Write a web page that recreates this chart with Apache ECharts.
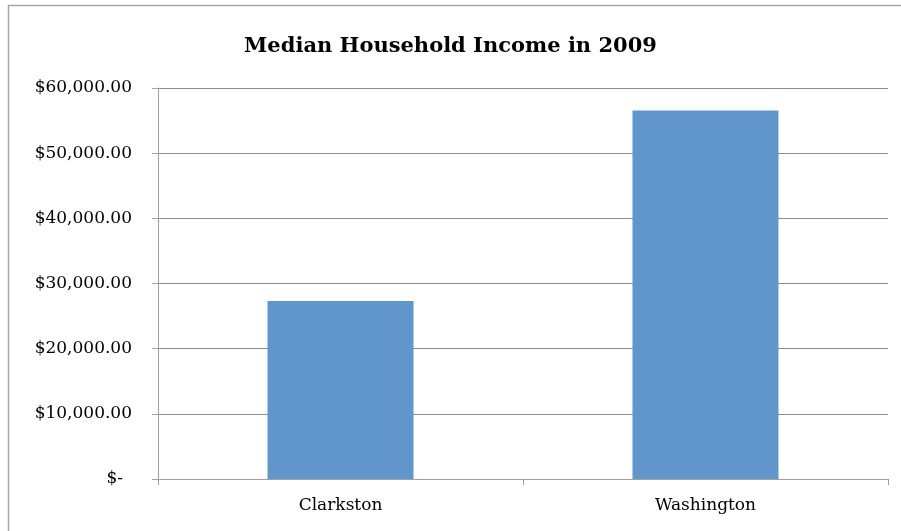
<!DOCTYPE html>
<html>
<head>
<meta charset="utf-8">
<script src="https://cdn.jsdelivr.net/npm/echarts@6/dist/echarts.min.js"></script>
<style>
  html, body { margin: 0; padding: 0; background: #ffffff; }
  #chart { width: 901px; height: 531px; }
</style>
</head>
<body>
<div id="chart"></div>
<script>
// Median household income, 2009
const categories = ['Clarkston', 'Washington'];
const incomes = [27315, 56548];
const yTicks = [0, 10000, 20000, 30000, 40000, 50000, 60000];
const titleText = 'Median Household Income in 2009';

const serif = '"DejaVu Serif", "Liberation Serif", serif';

function money(v) {
  if (v === 0) return '{z|$-}';
  return '$' + v.toLocaleString('en-US', { minimumFractionDigits: 2, maximumFractionDigits: 2 });
}

const chart = echarts.init(document.getElementById('chart'), null, { renderer: 'canvas' });
chart.setOption({
  animation: false,
  backgroundColor: '#ffffff',
  title: {
    text: titleText,
    left: 'center',
    top: 31,
    textStyle: { fontFamily: serif, fontWeight: 'bold', fontSize: 21, color: '#000000' }
  },
  graphic: [{
    type: 'rect',
    shape: { x: 8.5, y: 5.5, width: 1000, height: 1000 },
    style: { fill: 'none', stroke: '#a6a6a6', lineWidth: 1.5 },
    silent: true
  }],
  grid: { left: 158, right: 13, top: 88, bottom: 52 },
  xAxis: {
    type: 'category',
    data: categories,
    axisLine: { lineStyle: { color: '#a0a0a0', width: 1 } },
    axisTick: { show: true, length: 6, alignWithLabel: false, lineStyle: { color: '#a0a0a0' } },
    axisLabel: { fontFamily: serif, fontSize: 17, color: '#000000', margin: 18 }
  },
  yAxis: {
    type: 'value',
    min: yTicks[0],
    max: yTicks[yTicks.length - 1],
    interval: yTicks[1] - yTicks[0],
    axisLine: { show: true, lineStyle: { color: '#a0a0a0', width: 1 } },
    axisTick: { show: true, length: 6, lineStyle: { color: '#a0a0a0' } },
    splitLine: { lineStyle: { color: '#8c8c8c', width: 1 } },
    axisLabel: {
      fontFamily: serif, fontSize: 17, color: '#000000', margin: 26,
      formatter: money,
      rich: { z: { fontFamily: serif, fontSize: 17, color: '#000000', padding: [0, 9, 0, 0] } }
    }
  },
  series: [{
    type: 'bar',
    data: incomes,
    barWidth: '40%',
    itemStyle: { color: '#6096c9' }
  }]
});
</script>
</body>
</html>
